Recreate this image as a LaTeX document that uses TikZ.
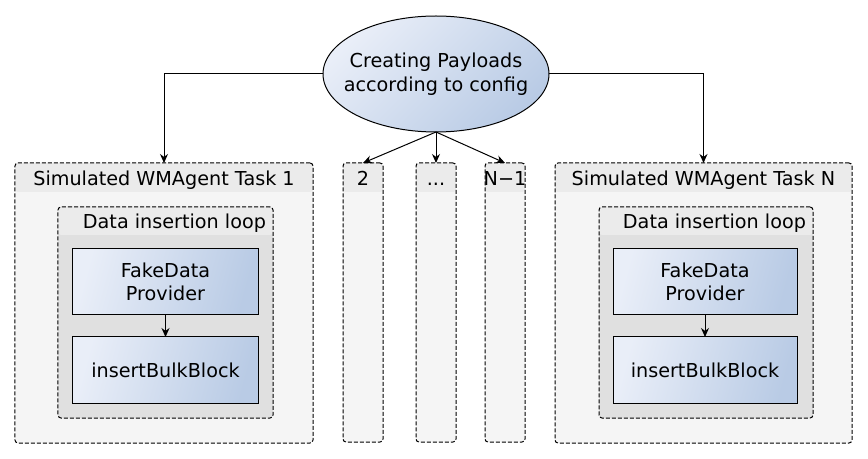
\documentclass[tikz,border=0pt]{standalone}
\usepackage{fontspec}
\setmainfont{DejaVu Sans}
\usetikzlibrary{shapes.geometric,arrows.meta}
\definecolor{outerfill}{HTML}{F5F5F5}
\definecolor{hdrgray}{HTML}{EBEBEB}
\definecolor{loopfill}{HTML}{E0E0E0}
\definecolor{blueL}{HTML}{E9EEF8}
\definecolor{blueR}{HTML}{B9CBE5}
\tikzset{
  every node/.style={font=\fontsize{19.2bp}{23.5bp}\selectfont, inner sep=0pt, outer sep=0pt},
  dashbox/.style={draw=black, line width=1bp, dash pattern=on 4bp off 2bp, rounded corners=3bp, fill=#1},
  hdrband/.style={path picture={\fill[hdrgray] (path picture bounding box.north west) rectangle ([yshift=-#1]path picture bounding box.north east);}},
  bluebox/.style={draw=black, line width=1bp, left color=blueL, right color=blueR, shading angle=75, align=center, minimum width=#1, minimum height=66bp},
  payload/.style={ellipse, draw=black, line width=1bp, left color=blueL, right color=blueR, shading angle=45, minimum width=226bp, minimum height=116bp},
  arr/.style={-{Stealth[length=9bp,width=8bp]}, line width=1bp},
  hdrtext/.style={anchor=base}
}
\begin{document}
\begin{tikzpicture}[x=1bp,y=-1bp]
\useasboundingbox (0,0) rectangle (868,459);
% outer task boxes
\node[dashbox=outerfill, hdrband=29bp, minimum width=298bp, minimum height=280bp] (t1) at (164,303) {};
\node[dashbox=outerfill, hdrband=29bp, minimum width=297bp, minimum height=280bp] (tN) at (703.5,303) {};
\node[dashbox=outerfill, hdrband=29bp, minimum width=40bp, minimum height=279bp] (c2) at (363,302.5) {};
\node[dashbox=outerfill, hdrband=29bp, minimum width=40bp, minimum height=279bp] (c3) at (436,302.5) {};
\node[dashbox=outerfill, hdrband=29bp, minimum width=40bp, minimum height=279bp] (c4) at (505,302.5) {};
% headers
\node[hdrtext] (t1h) at (164,185.5) {Simulated WMAgent Task 1};
\node[hdrtext] (tNh) at (703.5,185.5) {Simulated WMAgent Task N};
\node[hdrtext] (c2h) at (363,185.5) {2};
\node[hdrtext] (c3h) at (436,185.5) {...};
\node[hdrtext] (c4h) at (505,185.5) {N−1};
% loops
\node[dashbox=loopfill, hdrband=28bp, minimum width=215bp, minimum height=211bp] (l1) at (165.5,312.5) {};
\node[dashbox=loopfill, hdrband=28bp, minimum width=214bp, minimum height=211bp] (lN) at (706,312.5) {};
\node[anchor=base east] (l1h) at (266,229) {Data insertion loop};
\node[anchor=base east] (lNh) at (806,229) {Data insertion loop};
% blue boxes
\node[bluebox=185bp] (fd1) at (165.5,282) {FakeData\\Provider};
\node[bluebox=185bp] (ib1) at (165.5,370) {insertBulkBlock};
\node[bluebox=184bp] (fdN) at (705,282) {FakeData\\Provider};
\node[bluebox=184bp] (ibN) at (705,370) {insertBulkBlock};
% ellipse
\node[payload] (pay) at (436,74) {};
\node[align=center] (payt) at (pay.center) {Creating Payloads\\according to config};
% connectors
\draw[arr] (pay.west) -| (t1.north);
\draw[arr] (pay.east) -| (tN.north);
\draw[arr] (pay.south) -- (c2.north);
\draw[arr] (pay.south) -- (c3.north);
\draw[arr] (pay.south) -- (c4.north);
\draw[arr] (fd1) -- (ib1);
\draw[arr] (fdN) -- (ibN);
\end{tikzpicture}
\end{document}
